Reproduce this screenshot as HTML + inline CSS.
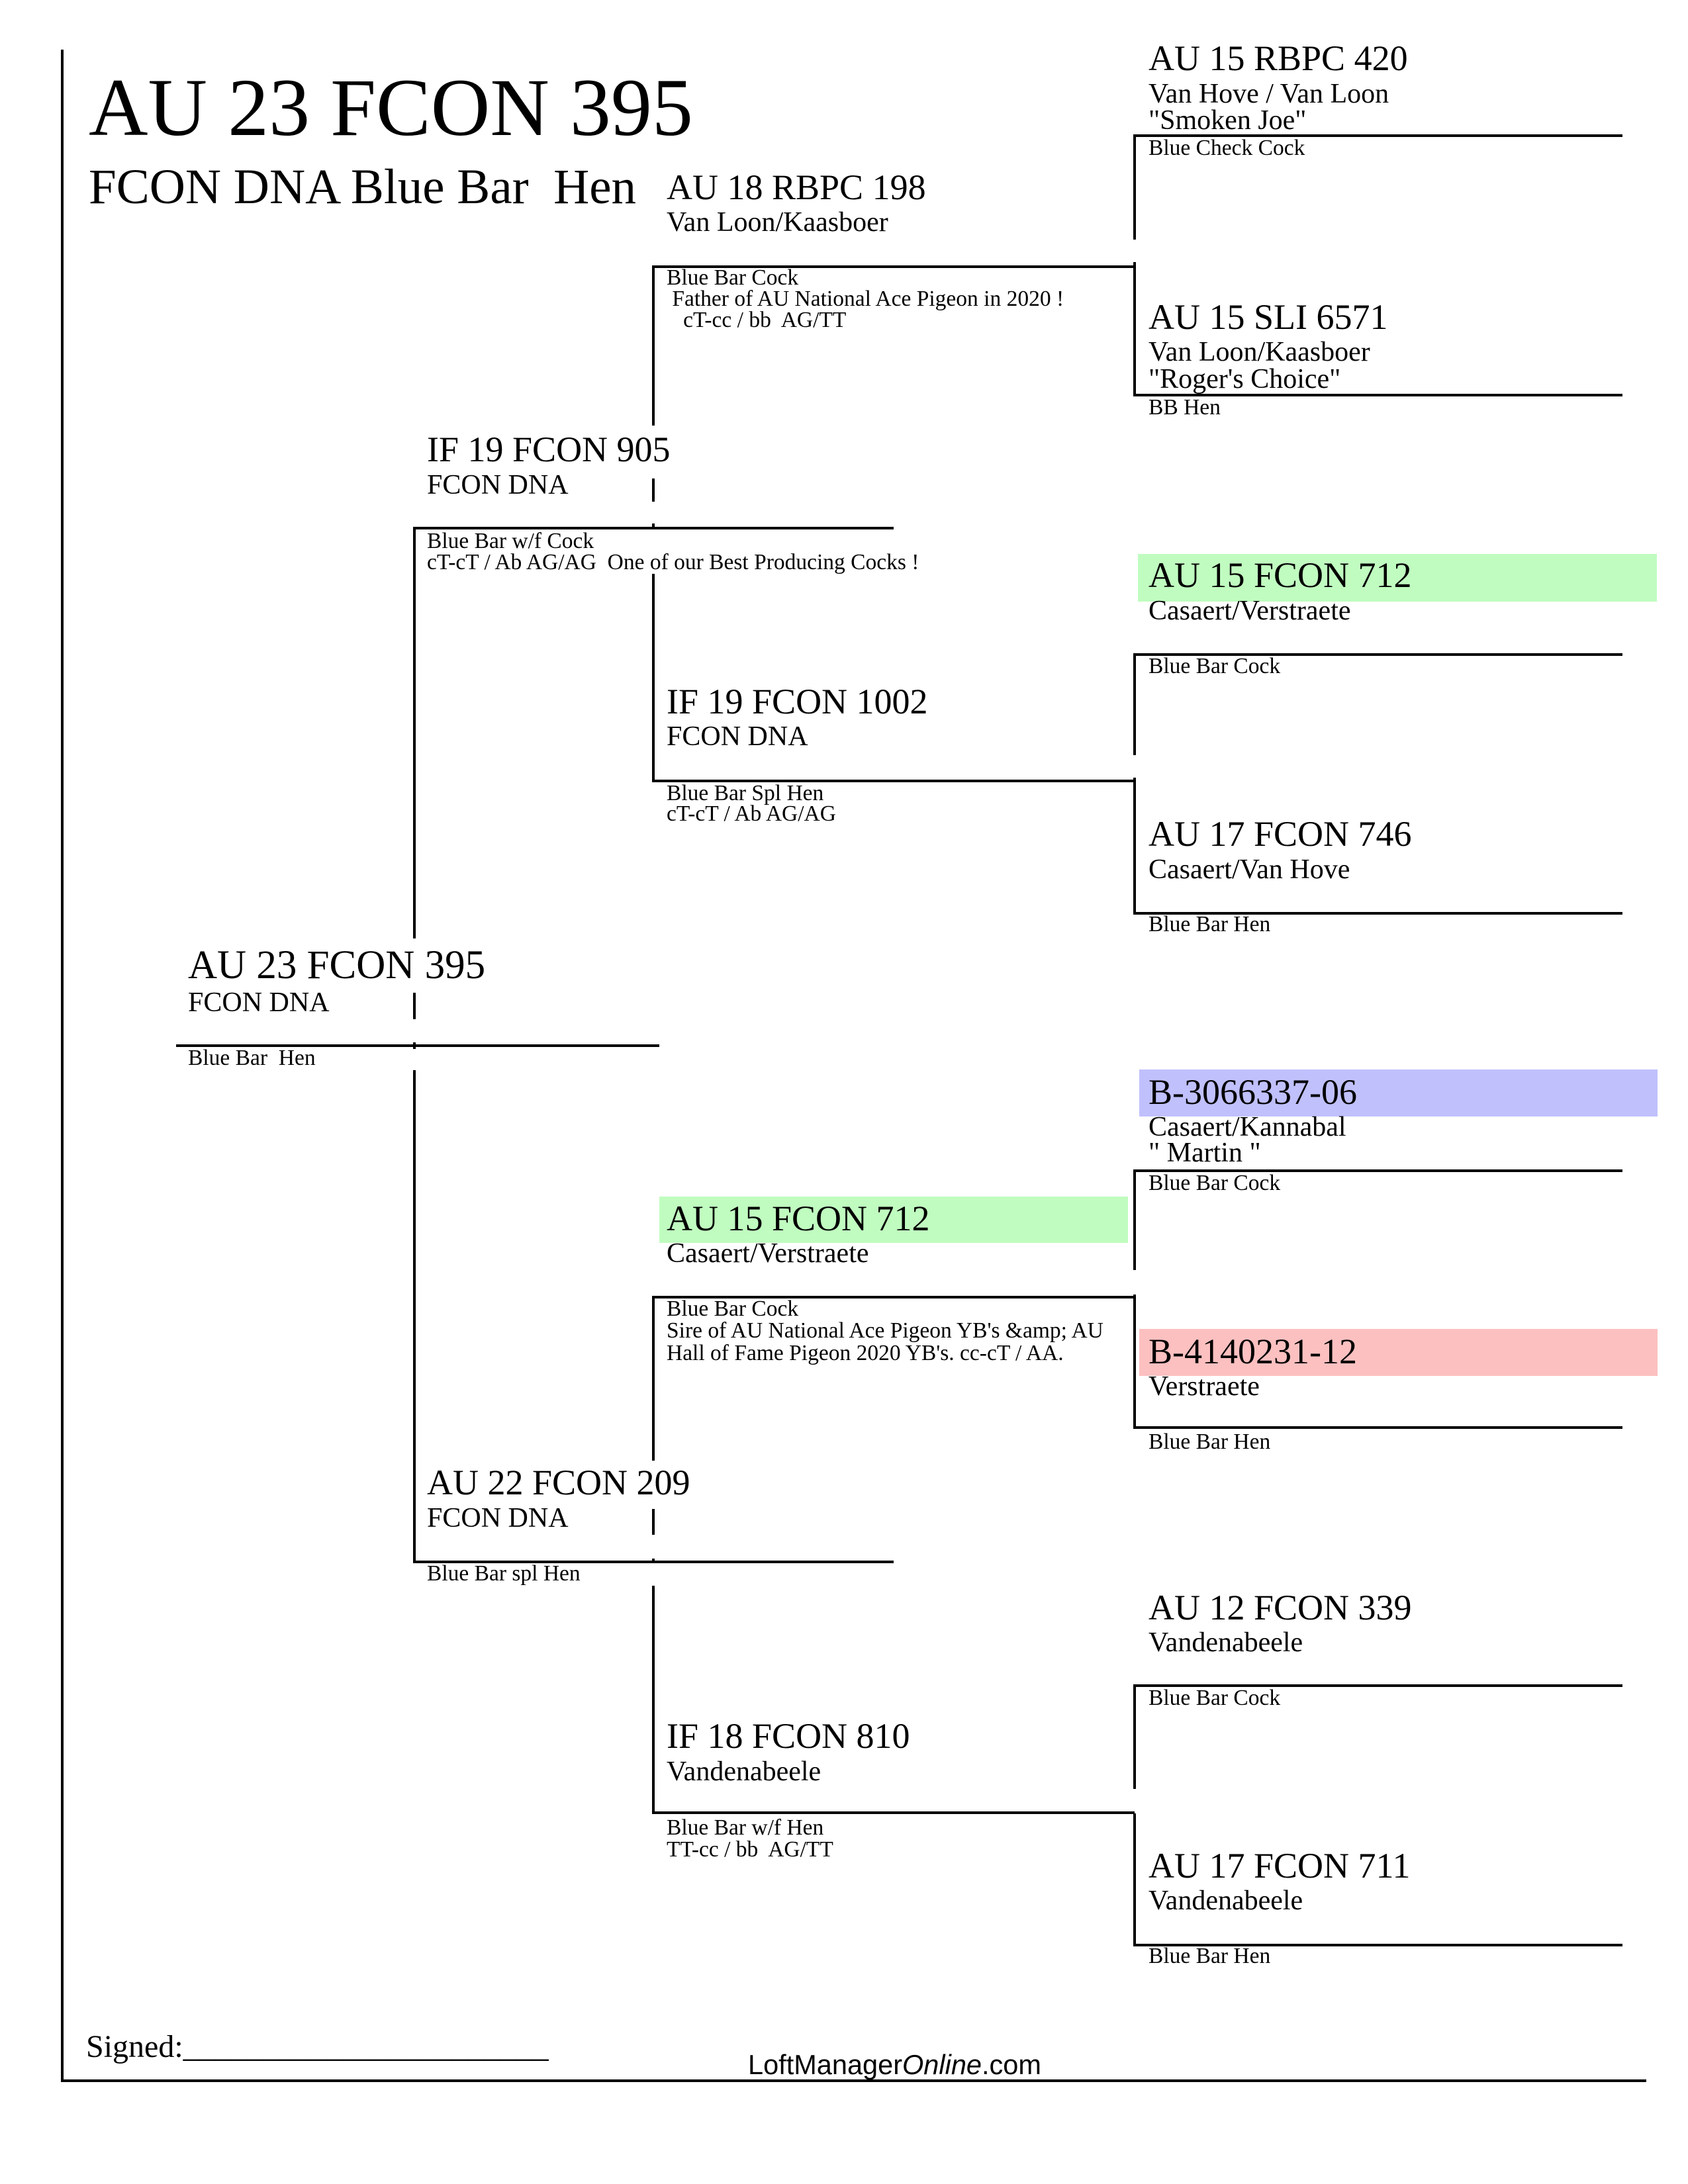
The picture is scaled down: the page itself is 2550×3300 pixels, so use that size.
<!DOCTYPE html>
<html><head><meta charset="utf-8"><style>
html,body{margin:0;padding:0;background:#fff;}
svg{display:block;}
text{font-family:"Liberation Serif",serif;fill:#000;white-space:pre;}
.n{font-size:54px;}
.s{font-size:42px;}
.m{font-size:33.5px;}
</style></head><body>
<svg width="2550" height="3300" viewBox="0 0 2550 3300" xmlns="http://www.w3.org/2000/svg">
<rect width="2550" height="3300" fill="#fff"/>
<rect x="1719" y="837" width="784" height="72" fill="#c0fcc0"/>
<rect x="1721" y="1616" width="783" height="71" fill="#c0c0fc"/>
<rect x="1721" y="2008" width="783" height="71" fill="#fcc0c0"/>
<rect x="996" y="1808" width="708" height="70" fill="#c0fcc0"/>
<g stroke="#000" stroke-width="4" fill="none">
<line x1="94" y1="75" x2="94" y2="3146"/>
<line x1="92" y1="3144" x2="2487" y2="3144"/>
<line x1="266" y1="1580" x2="996" y2="1580"/>
<line x1="626" y1="796" x2="626" y2="1418"/>
<line x1="626" y1="1500" x2="626" y2="1540"/>
<line x1="626" y1="1575" x2="626" y2="1585"/>
<line x1="626" y1="1617" x2="626" y2="2362"/>
<line x1="626" y1="798" x2="1350" y2="798"/>
<line x1="626" y1="2360" x2="1350" y2="2360"/>
<line x1="987" y1="401" x2="987" y2="643"/>
<line x1="987" y1="723" x2="987" y2="758"/>
<line x1="987" y1="791" x2="987" y2="798"/>
<line x1="987" y1="867" x2="987" y2="1182"/>
<line x1="987" y1="1958" x2="987" y2="2207"/>
<line x1="987" y1="2280" x2="987" y2="2319"/>
<line x1="987" y1="2355" x2="987" y2="2362"/>
<line x1="987" y1="2396" x2="987" y2="2741"/>
<line x1="987" y1="403" x2="1714" y2="403"/>
<line x1="987" y1="1180" x2="1714" y2="1180"/>
<line x1="987" y1="1960" x2="1714" y2="1960"/>
<line x1="987" y1="2739" x2="1714" y2="2739"/>
<line x1="1714" y1="203" x2="1714" y2="362"/>
<line x1="1714" y1="396" x2="1714" y2="599"/>
<line x1="1714" y1="987" x2="1714" y2="1141"/>
<line x1="1714" y1="1175" x2="1714" y2="1382"/>
<line x1="1714" y1="1767" x2="1714" y2="1919"/>
<line x1="1714" y1="1956" x2="1714" y2="2159"/>
<line x1="1714" y1="2545" x2="1714" y2="2703"/>
<line x1="1714" y1="2740" x2="1714" y2="2941"/>
<line x1="1714" y1="205" x2="2451" y2="205"/>
<line x1="1714" y1="597" x2="2451" y2="597"/>
<line x1="1714" y1="989" x2="2451" y2="989"/>
<line x1="1714" y1="1380" x2="2451" y2="1380"/>
<line x1="1714" y1="1769" x2="2451" y2="1769"/>
<line x1="1714" y1="2157" x2="2451" y2="2157"/>
<line x1="1714" y1="2547" x2="2451" y2="2547"/>
<line x1="1714" y1="2939" x2="2451" y2="2939"/>
</g>
<text x="134" y="204" font-size="124">AU 23 FCON 395</text>
<text x="134" y="307" font-size="75">FCON DNA Blue Bar  Hen</text>
<text x="284" y="1478" font-size="61">AU 23 FCON 395</text>
<text class="s" x="284" y="1528">FCON DNA</text>
<text class="m" x="284" y="1609">Blue Bar  Hen</text>
<text class="n" x="645" y="697">IF 19 FCON 905</text>
<text class="s" x="645" y="746">FCON DNA</text>
<text class="m" x="645" y="828">Blue Bar w/f Cock</text>
<text class="m" x="645" y="860">cT-cT / Ab AG/AG  One of our Best Producing Cocks !</text>
<text class="n" x="645" y="2258">AU 22 FCON 209</text>
<text class="s" x="645" y="2307">FCON DNA</text>
<text class="m" x="645" y="2388">Blue Bar spl Hen</text>
<text class="n" x="1007" y="301">AU 18 RBPC 198</text>
<text class="s" x="1007" y="349">Van Loon/Kaasboer</text>
<text class="m" x="1007" y="430">Blue Bar Cock</text>
<text class="m" x="1007" y="462"> Father of AU National Ace Pigeon in 2020 !</text>
<text class="m" x="1007" y="494">   cT-cc / bb  AG/TT</text>
<text class="n" x="1007" y="1078">IF 19 FCON 1002</text>
<text class="s" x="1007" y="1126">FCON DNA</text>
<text class="m" x="1007" y="1209">Blue Bar Spl Hen</text>
<text class="m" x="1007" y="1240">cT-cT / Ab AG/AG</text>
<text class="n" x="1007" y="1859">AU 15 FCON 712</text>
<text class="s" x="1007" y="1907">Casaert/Verstraete</text>
<text class="m" x="1007" y="1988">Blue Bar Cock</text>
<text class="m" x="1007" y="2021">Sire of AU National Ace Pigeon YB's &amp;amp; AU</text>
<text class="m" x="1007" y="2055">Hall of Fame Pigeon 2020 YB's. cc-cT / AA.</text>
<text class="n" x="1007" y="2641">IF 18 FCON 810</text>
<text class="s" x="1007" y="2690">Vandenabeele</text>
<text class="m" x="1007" y="2772">Blue Bar w/f Hen</text>
<text class="m" x="1007" y="2805">TT-cc / bb  AG/TT</text>
<text class="n" x="1735" y="106">AU 15 RBPC 420</text>
<text class="s" x="1735" y="155">Van Hove / Van Loon</text>
<text class="s" x="1735" y="195">"Smoken Joe"</text>
<text class="m" x="1735" y="234">Blue Check Cock</text>
<text class="n" x="1735" y="497">AU 15 SLI 6571</text>
<text class="s" x="1735" y="545">Van Loon/Kaasboer</text>
<text class="s" x="1735" y="586">"Roger's Choice"</text>
<text class="m" x="1735" y="626">BB Hen</text>
<text class="n" x="1735" y="887">AU 15 FCON 712</text>
<text class="s" x="1735" y="936">Casaert/Verstraete</text>
<text class="m" x="1735" y="1017">Blue Bar Cock</text>
<text class="n" x="1735" y="1278">AU 17 FCON 746</text>
<text class="s" x="1735" y="1327">Casaert/Van Hove</text>
<text class="m" x="1735" y="1407">Blue Bar Hen</text>
<text class="n" x="1735" y="1668">B-3066337-06</text>
<text class="s" x="1735" y="1716">Casaert/Kannabal</text>
<text class="s" x="1735" y="1755">" Martin "</text>
<text class="m" x="1735" y="1798">Blue Bar Cock</text>
<text class="n" x="1735" y="2060">B-4140231-12</text>
<text class="s" x="1735" y="2108">Verstraete</text>
<text class="m" x="1735" y="2189">Blue Bar Hen</text>
<text class="n" x="1735" y="2447">AU 12 FCON 339</text>
<text class="s" x="1735" y="2495">Vandenabeele</text>
<text class="m" x="1735" y="2576">Blue Bar Cock</text>
<text class="n" x="1735" y="2837">AU 17 FCON 711</text>
<text class="s" x="1735" y="2885">Vandenabeele</text>
<text class="m" x="1735" y="2966">Blue Bar Hen</text>
<text x="130" y="3108" font-size="48">Signed:_______________________</text>
<text x="1130" y="3134" font-size="41.5" style="font-family:'Liberation Sans',sans-serif">LoftManager<tspan font-style="italic">Online</tspan>.com</text>
</svg>
</body></html>
